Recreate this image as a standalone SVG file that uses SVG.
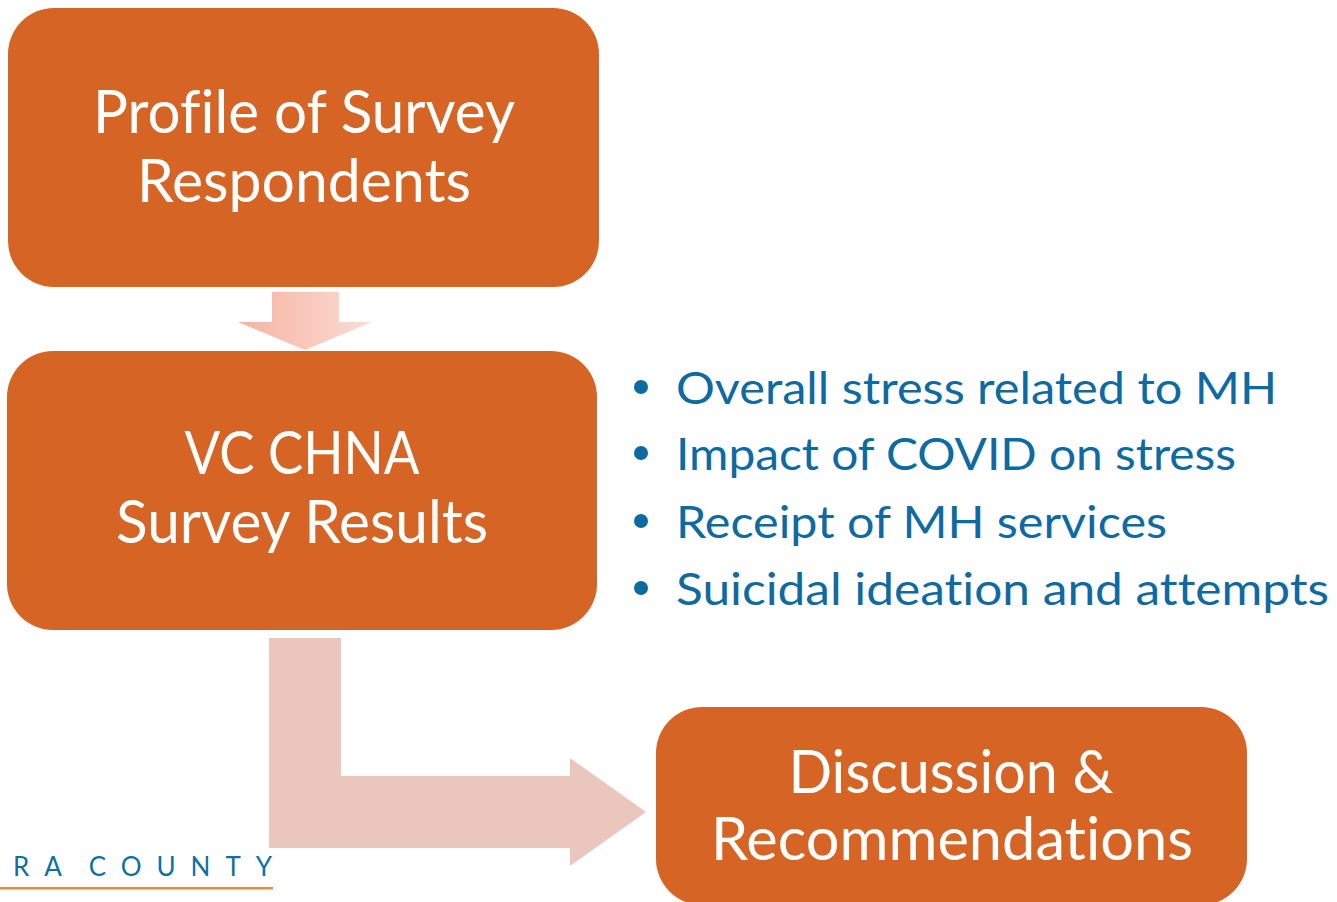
<svg xmlns="http://www.w3.org/2000/svg" width="1337" height="902" viewBox="0 0 1337 902">
<style>
text{font-variant-ligatures:none;font-feature-settings:"liga" 0,"dlig" 0;}
.box{fill:#D56425;}
.bt{fill:#FFFFFF;font-family:Lato,"Liberation Sans",sans-serif;font-size:60px;text-anchor:middle;}
.bul{fill:#0E6AA0;font-family:Lato,"Liberation Sans",sans-serif;font-size:45px;}
.dot{fill:#0E6AA0;}
</style>
<defs>
<linearGradient id="g1" x1="0" y1="0" x2="1" y2="0">
<stop offset="0" stop-color="#F6B3A2"/>
<stop offset="1" stop-color="#FBDCD4"/>
</linearGradient>
</defs>
<rect width="1337" height="902" fill="#FFFFFF"/>
<g id="connectors">
<polygon points="272,292 339,292 339,322 372,322 305,350 238,322 272,322" fill="url(#g1)"/>
<polygon points="269,638 341,638 341,776 570,776 570,758 646,812 570,866 570,848 269,848" fill="#EBC6BD"/>
</g>
<g id="node1">
<rect class="box" x="8" y="8" width="591" height="279" rx="46"/>
<text class="bt" x="304" y="133" textLength="422" lengthAdjust="spacingAndGlyphs">Profile of Survey</text>
<text class="bt" x="304" y="202" textLength="334" lengthAdjust="spacingAndGlyphs">Respondents</text>
</g>
<g id="node2">
<rect class="box" x="7" y="351" width="590" height="279" rx="46"/>
<text class="bt" x="302" y="474" textLength="235" lengthAdjust="spacingAndGlyphs">VC CHNA</text>
<text class="bt" x="302" y="543" textLength="372" lengthAdjust="spacingAndGlyphs">Survey Results</text>
</g>
<g id="node3">
<rect class="box" x="656" y="707" width="591" height="198" rx="46"/>
<text class="bt" x="951" y="793" textLength="325" lengthAdjust="spacingAndGlyphs">Discussion &amp;</text>
<text class="bt" x="952" y="860" textLength="482" lengthAdjust="spacingAndGlyphs">Recommendations</text>
</g>
<g id="bullets">
<circle class="dot" cx="641" cy="387" r="7"/>
<text class="bul" x="676" y="404" textLength="601" lengthAdjust="spacingAndGlyphs">Overall stress related to MH</text>
<circle class="dot" cx="641" cy="453" r="7"/>
<text class="bul" x="676" y="470" textLength="560" lengthAdjust="spacingAndGlyphs">Impact of COVID on stress</text>
<circle class="dot" cx="641" cy="521" r="7"/>
<text class="bul" x="676" y="538" textLength="491" lengthAdjust="spacingAndGlyphs">Receipt of MH services</text>
<circle class="dot" cx="641" cy="588" r="7"/>
<text class="bul" x="676" y="605" textLength="653" lengthAdjust="spacingAndGlyphs">Suicidal ideation and attempts</text>
</g>
<g id="logo">
<text x="13" y="876" fill="#1070A0" font-family="Lato,'Liberation Sans',sans-serif" font-size="26" letter-spacing="15" word-spacing="-9">RA COUNTY</text>
<rect x="0" y="887" width="273" height="2.5" fill="#EE8A3C"/>
</g>
</svg>
